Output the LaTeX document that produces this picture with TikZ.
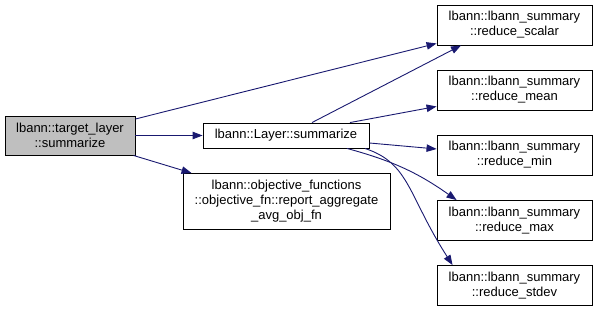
\documentclass[tikz,border=0pt]{standalone}
\usepackage{fontspec}
\setmainfont{Liberation Sans}
\usetikzlibrary{arrows.meta}
\definecolor{edgeblue}{HTML}{191970}
\definecolor{boxgray}{HTML}{BFBFBF}
\tikzset{
  fn/.style={draw=black, line width=0.9pt, fill=white, inner sep=0pt,
    align=center, font=\fontsize{13}{15}\selectfont},
  call/.style={draw=edgeblue, line width=0.9pt,
    -{Triangle[length=10pt,width=7.5pt]}},
}
\begin{document}
\begin{tikzpicture}[x=1pt,y=-1pt]
\useasboundingbox (0,0) rectangle (597,312);

% functions
\node[fn, fill=boxgray, minimum width=130pt, minimum height=39pt] (t) at (70,135.5)
  {lbann::target\_layer\\::summarize};
\node[fn, minimum width=166pt, minimum height=25pt] (l) at (286,135.5)
  {lbann::Layer::summarize};
\node[fn, minimum width=207pt, minimum height=56pt] (o) at (286.5,201.5)
  {lbann::objective\_functions\\::objective\_fn::report\_aggregate\\\_avg\_obj\_fn};

\node[fn, minimum width=155pt, minimum height=40pt] (s1) at (514.5,25)
  {lbann::lbann\_summary\\::reduce\_scalar};
\node[fn, minimum width=155pt, minimum height=40pt] (s2) at (514.5,90)
  {lbann::lbann\_summary\\::reduce\_mean};
\node[fn, minimum width=155pt, minimum height=40pt] (s3) at (514.5,155)
  {lbann::lbann\_summary\\::reduce\_min};
\node[fn, minimum width=155pt, minimum height=40pt] (s4) at (514.5,220.5)
  {lbann::lbann\_summary\\::reduce\_max};
\node[fn, minimum width=155pt, minimum height=40pt] (s5) at (514.5,285.5)
  {lbann::lbann\_summary\\::reduce\_stdev};

% calls from target_layer::summarize
\draw[call] ([yshift=16.5pt]t.east) -- ([yshift=2pt]s1.south west);
\draw[call] (t.east) -- (l.west);
\draw[call] ([xshift=-2pt]t.south east) -- ([xshift=9pt]o.north west);

% calls from Layer::summarize
\draw[call] ([xshift=26pt]l.north) -- ([xshift=-53.5pt]s1.south);
\draw[call] ([xshift=64pt]l.north) -- ([yshift=4pt]s2.south west);
\draw[call] ([yshift=-7.5pt]l.east) -- ([yshift=6pt]s3.west);
\draw[call] ([xshift=61pt]l.south) to[bend left=10] ([xshift=20pt]s4.north west);
\draw[call] ([xshift=79pt]l.south) .. controls +(45,15) and +(-45,-70) .. ([xshift=16pt]s5.north west);
\end{tikzpicture}
\end{document}
